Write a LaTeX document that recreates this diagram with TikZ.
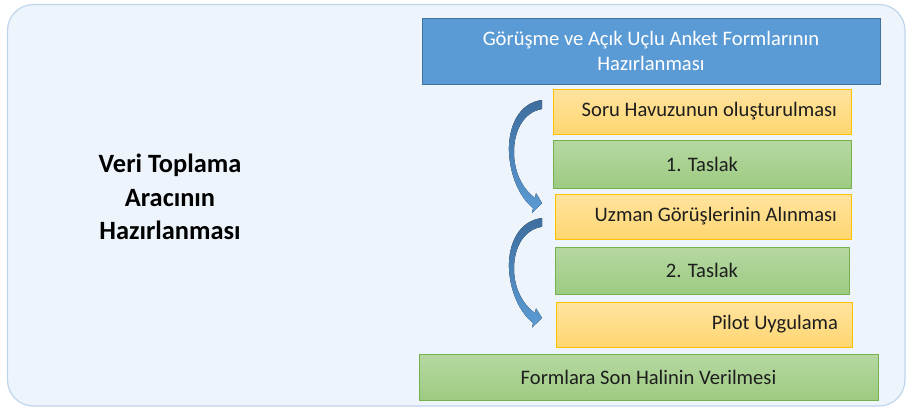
\documentclass[tikz,border=0pt]{standalone}
\usepackage{fontspec}
\setmainfont{Carlito}
\definecolor{panelfill}{HTML}{EEF4FB}
\definecolor{paneledge}{HTML}{BFD5EC}
\definecolor{bluefill}{HTML}{5B9BD5}
\definecolor{blueedge}{HTML}{41719C}
\definecolor{orangetop}{HTML}{FFE39F}
\definecolor{orangebot}{HTML}{FFD670}
\definecolor{orangeedge}{HTML}{FFC000}
\definecolor{greentop}{HTML}{B6D8A2}
\definecolor{greenbot}{HTML}{9DCB81}
\definecolor{greenedge}{HTML}{76B150}
\definecolor{arrowtop}{HTML}{3E6E9E}
\definecolor{arrowbot}{HTML}{5B9BD5}
\definecolor{inktext}{HTML}{1E1E1E}
\tikzset{
  boxtext/.style={font=\fontsize{20.6}{25}\selectfont, text=inktext, inner sep=0pt},
  bluebox/.style={boxtext, draw=blueedge, line width=1pt, fill=bluefill, text=white, align=flush center},
  orangebox/.style={boxtext, draw=orangeedge, line width=1pt, top color=orangetop, bottom color=orangebot,
    align=flush right, inner xsep=14pt, minimum height=45pt},
  greenbox/.style={boxtext, draw=greenedge, line width=1pt, top color=greentop, bottom color=greenbot, align=flush center},
  curvearrow/.pic={
    \fill[top color=arrowtop, bottom color=arrowbot]
      (0,0) .. controls (-24,3) and (-34,28) .. (-33,52)
      .. controls (-32,76) and (-22,98) .. (-9,108)
      -- (-10,113) -- (0,103) -- (-6,93) -- (-7,98)
      .. controls (-18,90) and (-28,74) .. (-28,52)
      .. controls (-28,30) and (-18,12) .. (0,9) -- cycle;
  }
}
\begin{document}
\begin{tikzpicture}[x=1pt, y=-1pt]
\path[use as bounding box] (0,0) rectangle (907,410);
% background panel
\draw[fill=panelfill, draw=paneledge, line width=1.2pt, rounded corners=26pt]
  (7.5,4.5) rectangle (905,406);
% left title
\node[font=\fontsize{26.4}{33.5}\selectfont\bfseries, text=black, align=flush center] (maintitle) at (170,197)
  {Veri Toplama\\Aracının\\Hazırlanması};
% process boxes
\node[bluebox, minimum width=458pt, minimum height=66pt] (forms) at (651,51)
  {Görüşme ve Açık Uçlu Anket Formlarının\\Hazırlanması};
\node[orangebox, text width=270pt] (pool) at (702,111.5) {Soru Havuzunun oluşturulması};
\node[greenbox, minimum width=298pt, minimum height=48pt] (draftone) at (702,164) {1. Taslak};
\node[orangebox, text width=268pt] (experts) at (703,216.5) {Uzman Görüşlerinin Alınması};
\node[greenbox, minimum width=294pt, minimum height=47pt] (drafttwo) at (702,270.5) {2. Taslak};
\node[orangebox, text width=268pt] (pilot) at (704,324.5) {Pilot Uygulama};
\node[greenbox, minimum width=459pt, minimum height=46pt] (final) at (648.5,377) {Formlara Son Halinin Verilmesi};
% curved arrows beside the steps
\pic at (542,100) {curvearrow};
\pic[yscale=0.97] at (542,218) {curvearrow};
\end{tikzpicture}
\end{document}
